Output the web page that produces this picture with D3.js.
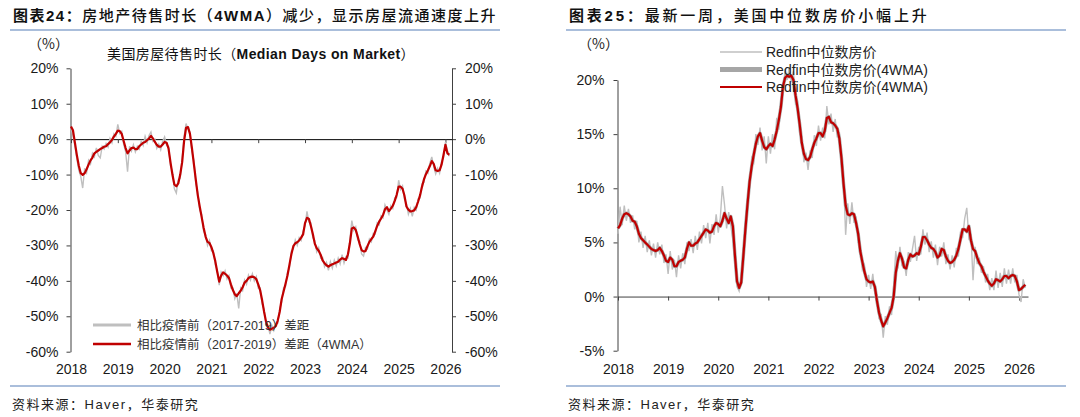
<!DOCTYPE html>
<html>
<head>
<meta charset="utf-8">
<script src="https://cdn.jsdelivr.net/npm/d3@7"></script>
<style>
  body { margin: 0; background: #fff; }
  svg { display: block; }
</style>
</head>
<body>
<svg width="1080" height="417"></svg>
<script>
// ---- data (half-monthly from Jan 2018) ----
const years = [2018, 2019, 2020, 2021, 2022, 2023, 2024, 2025, 2026];
const yearLabels = ["2018", "2019", "2020", "2021", "2022", "2023", "2024", "2025", "2026"];
const leftTicks = [20, 10, 0, -10, -20, -30, -40, -50, -60];
const rightTicks = [20, 15, 10, 5, 0, -5];

// Median days on market vs 2017-2019, 4WMA
const daysMA = [
  3.6, 2.5, -1.0, -4.5, -7.5, -9.6, -10.1, -9.6, -8.5, -7.2,
  -6.0, -5.2, -4.0, -3.6, -3.2, -2.8, -2.5, -2.1, -2.0, -1.4,
  -0.9, -0.2, 0.7, 1.5, 2.4, 2.3, 1.5, -0.5, -2.5, -4.0,
  -3.2, -2.5, -2.4, -2.8, -2.8, -2.0, -1.5, -1.0, -0.8, -0.3,
  0.2, 0.9, 0.2, -0.8, -1.6, -2.1, -2.1, -1.5, -0.8, -1.0,
  -2.6, -6.5, -10.0, -12.8, -13.3, -12.5, -10.0, -6.5, -0.5, 3.2,
  3.4, 1.5, -2.5, -7.0, -11.5, -15.8, -19.0, -22.0, -25.0, -27.5,
  -29.0, -29.3, -30.5, -32.2, -34.5, -37.5, -40.2, -38.5, -37.6, -38.0,
  -38.5, -39.2, -41.0, -42.6, -43.8, -44.3, -43.5, -42.8, -41.8, -40.5,
  -40.0, -39.2, -38.9, -38.8, -39.0, -39.5, -41.0, -42.7, -45.5, -48.7,
  -51.5, -53.2, -53.8, -53.5, -53.2, -52.8, -51.2, -48.8, -45.2, -43.0,
  -40.8, -38.5, -35.5, -32.5, -30.2, -29.4, -29.1, -28.6, -27.8, -26.9,
  -23.7, -22.2, -22.5, -24.5, -26.8, -29.5, -30.8, -31.5, -32.6, -34.2,
  -35.0, -35.6, -36.0, -35.6, -35.3, -35.1, -34.8, -34.6, -34.0, -33.6,
  -33.8, -34.1, -32.5, -29.4, -25.2, -24.9, -25.6, -27.5, -29.6, -31.3,
  -31.7, -31.6, -30.2, -29.0, -28.2, -27.5, -26.0, -24.5, -23.3, -22.4,
  -21.4, -19.8, -19.2, -20.3, -19.6, -18.8, -17.4, -15.7, -13.4, -13.4,
  -14.0, -16.0, -19.0, -19.9, -20.4, -20.3, -20.1, -19.2, -17.6, -15.8,
  -13.4, -11.3, -9.9, -8.8, -7.6, -6.2, -7.0, -8.8, -9.0, -8.8,
  -7.2, -4.5, -1.6, -4.0, -4.4
];

// Median days on market vs 2017-2019, weekly
const daysRaw = [
  3.0, 1.0, -2.0, -5.5, -8.8, -10.5, -13.8, -8.2, -9.5, -6.0,
  -7.0, -4.0, -5.0, -2.5, -4.6, -5.3, -2.0, -2.8, -1.2, -2.2,
  0.2, -1.0, 1.5, 0.8, 4.2, 1.6, 2.2, -1.5, -3.5, -9.2,
  -2.0, -3.4, -1.6, -3.6, -2.0, -2.8, -0.6, -1.8, 0.8, -1.0,
  1.0, 2.0, -0.6, 0.0, -2.6, -1.4, -3.0, -0.6, 0.6, -1.8,
  -2.0, -7.5, -9.0, -14.0, -15.2, -11.5, -11.0, -5.5, 0.8, 4.4,
  2.8, 2.0, -3.5, -6.0, -12.5, -15.0, -20.0, -21.2, -26.0, -27.0,
  -30.0, -28.6, -31.5, -31.5, -35.5, -37.0, -41.2, -37.5, -38.6, -37.2,
  -39.5, -38.5, -42.0, -42.0, -45.0, -43.5, -47.8, -42.0, -42.8, -39.8,
  -41.0, -38.4, -39.8, -38.0, -40.0, -38.8, -42.0, -42.0, -46.5, -48.0,
  -52.5, -52.5, -55.0, -52.6, -54.0, -52.0, -52.0, -48.0, -46.0, -42.0,
  -41.6, -37.6, -36.4, -31.6, -31.0, -28.5, -30.0, -27.8, -28.6, -26.0,
  -24.5, -20.4, -23.4, -23.6, -27.8, -28.6, -31.8, -30.6, -33.6, -33.4,
  -36.0, -34.8, -37.0, -34.6, -36.4, -34.2, -35.8, -33.6, -35.2, -32.6,
  -35.0, -33.2, -33.5, -28.4, -23.0, -25.8, -24.8, -28.4, -28.8, -32.4,
  -33.0, -30.6, -31.0, -28.2, -29.0, -26.6, -26.8, -23.6, -24.2, -21.6,
  -22.2, -18.6, -20.0, -21.2, -18.8, -19.6, -16.6, -16.5, -11.6, -14.2,
  -13.2, -17.0, -18.2, -21.2, -19.6, -21.8, -19.2, -20.0, -16.8, -16.6,
  -12.6, -12.2, -9.0, -9.6, -6.8, -5.0, -7.8, -9.8, -8.2, -9.6,
  -6.4, -5.2, -0.8, -3.2, -4.8
];

// Redfin median sale price yoy, 4WMA
const priceMA = [
  6.3, 6.6, 7.2, 7.6, 7.7, 7.6, 7.4, 7.0, 6.9, 6.5,
  5.8, 5.4, 5.2, 5.0, 4.8, 4.6, 4.4, 4.3, 4.2, 4.3,
  4.5, 4.2, 3.8, 3.3, 3.2, 3.6, 3.4, 2.8, 2.8, 3.2,
  3.3, 3.4, 3.6, 4.4, 5.0, 4.7, 4.7, 4.9, 5.0, 5.3,
  5.6, 5.9, 6.2, 6.1, 5.9, 6.0, 6.5, 6.8, 6.7, 6.5,
  7.0, 7.7, 7.2, 6.8, 7.4, 6.5, 3.8, 1.4, 0.8, 1.3,
  3.7, 6.2, 8.5, 10.6, 12.0, 13.1, 14.1, 14.8, 15.1, 14.4,
  13.8, 13.6, 13.9, 14.1, 13.9, 14.5, 15.3, 16.3, 17.5, 19.4,
  20.2, 20.4, 20.3, 20.4, 20.0, 18.6, 17.4, 15.9, 14.2, 13.2,
  12.7, 12.6, 12.9, 13.6, 14.2, 14.6, 15.1, 15.1, 14.8, 15.3,
  16.5, 16.6, 16.1, 16.0, 15.8, 15.5, 14.6, 12.8, 10.4, 8.4,
  7.6, 7.5, 7.7, 7.6, 6.8, 5.8, 4.2, 3.2, 2.3, 1.6,
  1.4, 1.3, 1.4, 0.9, -0.4, -1.5, -2.2, -2.75, -2.4, -2.0,
  -1.5, -1.05, 0.0, 2.2, 3.3, 4.0, 3.5, 2.7, 2.6, 3.4,
  3.9, 3.7, 3.8, 4.0, 3.9, 4.6, 5.5, 5.5, 5.2, 4.8,
  4.5, 4.4, 4.1, 3.6, 3.8, 4.4, 4.3, 3.7, 3.3, 3.1,
  3.2, 3.4, 3.8, 4.4, 5.3, 6.2, 6.2, 6.0, 6.5, 5.2,
  4.4, 4.2, 3.6, 3.1, 2.8, 2.3, 1.9, 1.5, 1.2, 1.0,
  1.2, 1.6, 1.5, 1.4, 1.6, 1.9, 1.9, 1.7, 1.9, 2.0,
  1.9, 1.4, 0.6, 0.7, 0.9, 1.1
];

// Redfin median sale price yoy, weekly
const priceRaw = [
  5.8, 8.3, 6.6, 8.4, 7.0, 8.1, 6.8, 7.5, 6.2, 7.0,
  5.0, 6.0, 4.5, 5.6, 4.1, 5.2, 3.8, 4.9, 3.6, 5.0,
  3.9, 4.8, 3.1, 3.9, 2.1, 4.2, 2.5, 3.4, 1.8, 3.8,
  2.6, 4.0, 3.0, 5.0, 4.2, 5.3, 4.0, 5.6, 4.3, 6.0,
  4.9, 6.6, 5.4, 6.8, 4.9, 6.7, 5.7, 7.6, 5.9, 7.3,
  10.2, 8.5, 6.3, 7.8, 6.6, 5.2, 3.0, 0.9, 0.5, 1.8,
  4.3, 6.8, 9.0, 10.0, 12.8, 12.4, 15.0, 14.0, 15.6, 13.5,
  14.8, 12.3, 14.8, 13.2, 15.0, 13.6, 16.5, 15.4, 18.2, 18.6,
  21.0, 20.0, 21.2, 19.8, 20.8, 17.8, 18.0, 15.0, 14.8, 12.4,
  13.3, 11.7, 13.5, 12.8, 14.9, 13.9, 15.8, 14.4, 15.6, 14.6,
  17.6, 15.9, 16.9, 15.2, 16.4, 14.7, 15.2, 12.0, 10.9, 5.7,
  8.6, 6.7, 8.7, 6.8, 7.4, 5.0, 4.8, 2.5, 2.9, 0.9,
  2.0, 0.7, 2.1, 0.3, 0.2, -2.1, -1.6, -3.8, -1.8, -2.6,
  -0.9, -1.7, 1.0, 4.2, 2.6, 4.6, 2.8, 3.3, 1.9, 4.1,
  3.2, 4.4, 5.6, 3.3, 4.6, 3.9, 6.2, 4.8, 5.9, 4.1,
  5.1, 3.6, 4.8, 2.9, 4.6, 3.7, 5.0, 3.0, 3.9, 2.5,
  3.8, 2.7, 4.5, 3.7, 6.0, 5.4, 7.2, 8.2, 5.4, 5.8,
  1.5, 4.6, 3.0, 3.6, 2.2, 2.8, 1.3, 2.1, 0.6, 1.7,
  0.6, 2.4, 0.8, 2.2, 0.9, 2.6, 1.2, 2.5, 1.2, 2.6,
  1.3, 2.0, 0.2, -0.5, 1.6, 0.8
];

const RED = "#C00000";
const GREY = "#BFBFBF";
const AXIS = "#404040";
const BLUE = "#8EA9CF";
const FONT = "'Liberation Sans', Arial, 'Noto Sans CJK SC', sans-serif";
const CJK = "'Noto Sans CJK SC', sans-serif";

const svg = d3.select("svg")
  .attr("font-family", FONT);

const dateOf = i => 2018 + i / 24;

function styleAxis(g) {
  g.attr("font-family", FONT).attr("font-size", 14);
  g.select(".domain").attr("stroke", AXIS);
  g.selectAll(".tick line").attr("stroke", AXIS);
  g.selectAll(".tick text").attr("fill", "#1a1a1a");
}

// ---- titles, rules, sources ----
function header(x0, x1, num, rest, spacing) {
  const t = svg.append("text")
    .attr("x", x0 + 3).attr("y", 21)
    .attr("font-size", 15)
    .attr("letter-spacing", spacing)
    .attr("fill", "#111");
  t.append("tspan").attr("font-weight", "bold").text("图表" + num + "：");
  rest.forEach(p => {
    t.append("tspan").attr("font-weight", p.bold ? "bold" : 500).text(p.t);
  });
  svg.append("line")
    .attr("x1", x0).attr("x2", x1).attr("y1", 30).attr("y2", 30)
    .attr("stroke", BLUE).attr("stroke-width", 1.5);
  svg.append("line")
    .attr("x1", x0).attr("x2", x1).attr("y1", 386).attr("y2", 386)
    .attr("stroke", BLUE).attr("stroke-width", 1.5);
  svg.append("text")
    .attr("x", x0 + 2).attr("y", 409)
    .attr("font-size", 13)
    .attr("letter-spacing", 1.5)
    .attr("fill", "#222")
    .text("资料来源：Haver，华泰研究");
}

header(10, 500, "24", [
  { t: "房地产待售时长（" },
  { t: "4WMA", bold: true },
  { t: "）减少，显示房屋流通速度上升" }
], 1.5);
header(566, 1066, "25", [
  { t: "最新一周，美国中位数房价小幅上升" }
], 2.8);

// ================= left chart =================
const xL = d3.scaleLinear().domain([2018, 2026.14]).range([71, 452]);
const yL = d3.scaleLinear().domain([-60, 20]).range([351.7, 68.3]);

svg.append("text")
  .attr("x", 28).attr("y", 49)
  .attr("font-size", 14).attr("font-family", CJK).attr("fill", "#222")
  .text("（%）");

const sub = svg.append("text")
  .attr("x", 107).attr("y", 59)
  .attr("font-size", 14).attr("letter-spacing", 0.4).attr("fill", "#111");
sub.append("tspan").attr("font-family", CJK).text("美国房屋待售时长（");
sub.append("tspan").attr("font-weight", "bold").text("Median Days on Market");
sub.append("tspan").attr("font-family", CJK).text("）");

svg.append("g")
  .attr("transform", `translate(${xL(2018) - 0.5},0)`)
  .call(d3.axisLeft(yL).tickValues(leftTicks).tickSize(4).tickSizeOuter(0)
    .tickPadding(8).tickFormat(d => d + "%"))
  .call(styleAxis);

svg.append("g")
  .attr("transform", `translate(${xL.range()[1]},0)`)
  .call(d3.axisRight(yL).tickValues(leftTicks).tickSize(4).tickSizeOuter(0)
    .tickPadding(9).tickFormat(d => d + "%"))
  .call(styleAxis);

svg.append("g")
  .attr("transform", `translate(0,${yL(0)})`)
  .call(d3.axisBottom(xL).tickValues(years).tickSize(4).tickSizeOuter(0).tickFormat(""))
  .call(styleAxis)
  .call(g => g.select(".domain").attr("stroke", "#000"));

svg.append("g")
  .attr("transform", "translate(0,364)")
  .call(d3.axisBottom(xL).tickValues(years).tickSize(0).tickPadding(0)
    .tickFormat((d, i) => yearLabels[i]))
  .call(styleAxis)
  .call(g => g.select(".domain").remove());

const lineL = d3.line().x((d, i) => xL(dateOf(i))).y(d => yL(d));

svg.append("path")
  .datum(daysRaw)
  .attr("fill", "none").attr("stroke", GREY).attr("stroke-width", 1.4)
  .attr("d", lineL);

svg.append("path")
  .datum(daysMA)
  .attr("fill", "none").attr("stroke", RED).attr("stroke-width", 2.2)
  .attr("stroke-linejoin", "round")
  .attr("d", lineL);

const legL = [
  { name: "相比疫情前（2017-2019）差距", color: GREY, w: 3, y: 325 },
  { name: "相比疫情前（2017-2019）差距（4WMA）", color: RED, w: 2.5, y: 344 }
];
legL.forEach(d => {
  svg.append("line")
    .attr("x1", 93).attr("x2", 131).attr("y1", d.y).attr("y2", d.y)
    .attr("stroke", d.color).attr("stroke-width", d.w);
  svg.append("text")
    .attr("x", 137).attr("y", d.y + 4.5)
    .attr("font-size", 12.5).attr("fill", "#333")
    .text(d.name);
});

// ================= right chart =================
const xR = d3.scaleLinear().domain([2018, 2026.18]).range([618, 1028]);
const yR = d3.scaleLinear().domain([-5, 20]).range([350.7, 80]);

svg.append("text")
  .attr("x", 578).attr("y", 49)
  .attr("font-size", 14).attr("font-family", CJK).attr("fill", "#222")
  .text("（%）");

svg.append("g")
  .attr("transform", `translate(${xR(2018) - 0.5},0)`)
  .call(d3.axisLeft(yR).tickValues(rightTicks).tickSize(4).tickSizeOuter(0)
    .tickPadding(9).tickFormat(d => d + "%"))
  .call(styleAxis);

svg.append("g")
  .attr("transform", `translate(0,${yR(0)})`)
  .call(d3.axisBottom(xR).tickValues(years).tickSize(4).tickSizeOuter(0).tickFormat(""))
  .call(styleAxis);

svg.append("g")
  .attr("transform", "translate(0,364)")
  .call(d3.axisBottom(xR).tickValues(years).tickSize(0).tickPadding(0)
    .tickFormat((d, i) => yearLabels[i]))
  .call(styleAxis)
  .call(g => g.select(".domain").remove());

const lineR = d3.line().x((d, i) => xR(dateOf(i))).y(d => yR(d));

svg.append("path")
  .datum(priceRaw)
  .attr("fill", "none").attr("stroke", GREY).attr("stroke-width", 1.4)
  .attr("d", lineR);

svg.append("path")
  .datum(priceMA)
  .attr("fill", "none").attr("stroke", "#A6A6A6").attr("stroke-width", 3.4)
  .attr("stroke-linejoin", "round")
  .attr("d", lineR);

svg.append("path")
  .datum(priceMA)
  .attr("fill", "none").attr("stroke", RED).attr("stroke-width", 2.2)
  .attr("stroke-linejoin", "round")
  .attr("d", lineR);

const legR = [
  { name: "Redfin中位数房价", color: GREY, w: 1.6, y: 52 },
  { name: "Redfin中位数房价(4WMA)", color: "#A6A6A6", w: 5, y: 69.5 },
  { name: "Redfin中位数房价(4WMA)", color: RED, w: 2.2, y: 87 }
];
legR.forEach(d => {
  svg.append("line")
    .attr("x1", 720).attr("x2", 762).attr("y1", d.y).attr("y2", d.y)
    .attr("stroke", d.color).attr("stroke-width", d.w);
  svg.append("text")
    .attr("x", 766).attr("y", d.y + 5)
    .attr("font-size", 14).attr("fill", "#222")
    .text(d.name);
});
</script>
</body>
</html>
